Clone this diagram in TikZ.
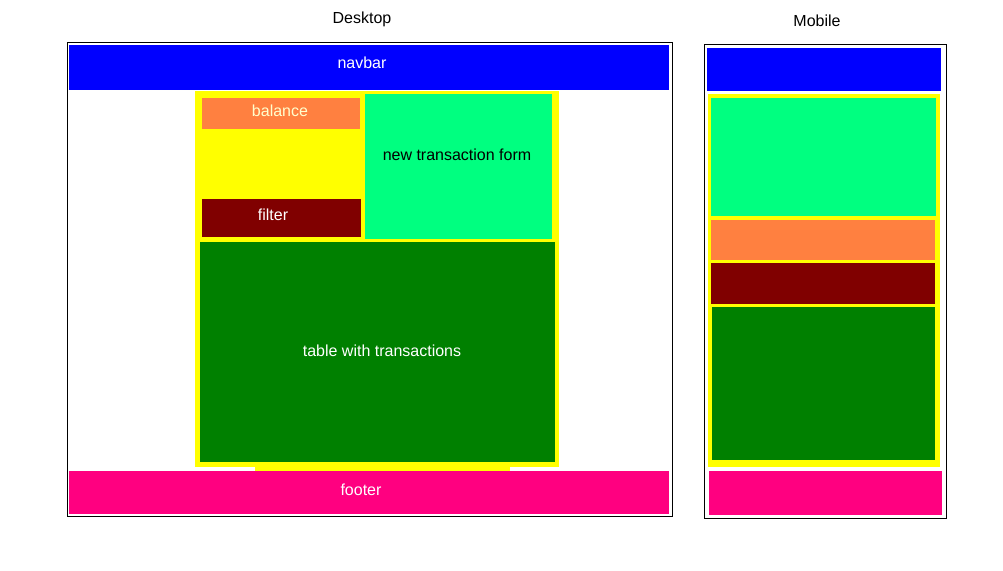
\documentclass[tikz,border=0pt]{standalone}
\usepackage{fontspec}
\setmainfont{Liberation Sans}
\definecolor{navblue}{RGB}{0,0,255}
\definecolor{contyellow}{RGB}{255,255,0}
\definecolor{balorange}{RGB}{255,128,64}
\definecolor{filtred}{RGB}{128,0,0}
\definecolor{formgreen}{RGB}{0,255,128}
\definecolor{tabgreen}{RGB}{0,128,0}
\definecolor{footpink}{RGB}{255,0,128}
\definecolor{baltext}{RGB}{255,255,205}
\begin{document}
\begin{tikzpicture}[x=1pt,y=-1pt,
  blk/.style={draw=none,inner sep=0pt,outer sep=0pt,rectangle},
  frame/.style={draw=black,line width=1pt,fill=white,inner sep=0pt,outer sep=0pt,rectangle},
  lbl/.style={inner sep=0pt,font=\fontsize{16}{19}\selectfont},
  title/.style={inner sep=0pt,font=\fontsize{16}{19}\selectfont,text=black}]
\useasboundingbox (0,0) rectangle (1003,570);
\fill[white] (0,0) rectangle (1003,570);
% Titles
\node[title] (tdesk) at (362,19) {Desktop};
\node[title] (tmob) at (817,21) {Mobile};
% Desktop
\node[frame,minimum width=605pt,minimum height=474pt] (dframe) at (369.5,279) {};
\node[blk,fill=navblue,minimum width=600pt,minimum height=45pt] (dnav) at (369,67.5) {};
\node[lbl,text=white] (dnavt) at (362,63) {navbar};
\node[blk,fill=contyellow,minimum width=364pt,minimum height=376pt] (dcont) at (377,279) {};
\node[blk,fill=contyellow,minimum width=255pt,minimum height=4pt] (dstrip) at (382.5,468.5) {};
\node[blk,fill=balorange,minimum width=158pt,minimum height=31pt] (dbal) at (281,113.5) {};
\node[lbl,text=baltext] (dbalt) at (280,111) {balance};
\node[blk,fill=filtred,minimum width=159pt,minimum height=38pt] (dfilt) at (281.5,218) {};
\node[lbl,text=white] (dfiltt) at (273,215) {filter};
\node[blk,fill=formgreen,minimum width=187pt,minimum height=145pt] (dform) at (458.5,166.5) {};
\node[lbl,text=black] (dformt) at (457,155) {new transaction form};
\node[blk,fill=tabgreen,minimum width=355pt,minimum height=220pt] (dtab) at (377.5,352) {};
\node[lbl,text=white] (dtabt) at (382,351) {table with transactions};
\node[blk,fill=footpink,minimum width=600pt,minimum height=43pt] (dfoot) at (369,492.5) {};
\node[lbl,text=white] (dfoott) at (361,490) {footer};
% Mobile
\node[frame,minimum width=242pt,minimum height=474pt] (mframe) at (825,281.3) {};
\node[blk,fill=navblue,minimum width=234pt,minimum height=43pt] (mnav) at (824,69.5) {};
\node[blk,fill=contyellow,minimum width=232pt,minimum height=373pt] (mcont) at (824,280.5) {};
\node[blk,fill=formgreen,minimum width=225pt,minimum height=118pt] (mform) at (823.5,157) {};
\node[blk,fill=balorange,minimum width=224pt,minimum height=40pt] (mbal) at (823,240) {};
\node[blk,fill=filtred,minimum width=224pt,minimum height=41pt] (mfilt) at (823,283.5) {};
\node[blk,fill=tabgreen,minimum width=223pt,minimum height=153pt] (mtab) at (823.5,383.5) {};
\node[blk,fill=footpink,minimum width=233pt,minimum height=44pt] (mfoot) at (825.5,493) {};
\end{tikzpicture}
\end{document}
